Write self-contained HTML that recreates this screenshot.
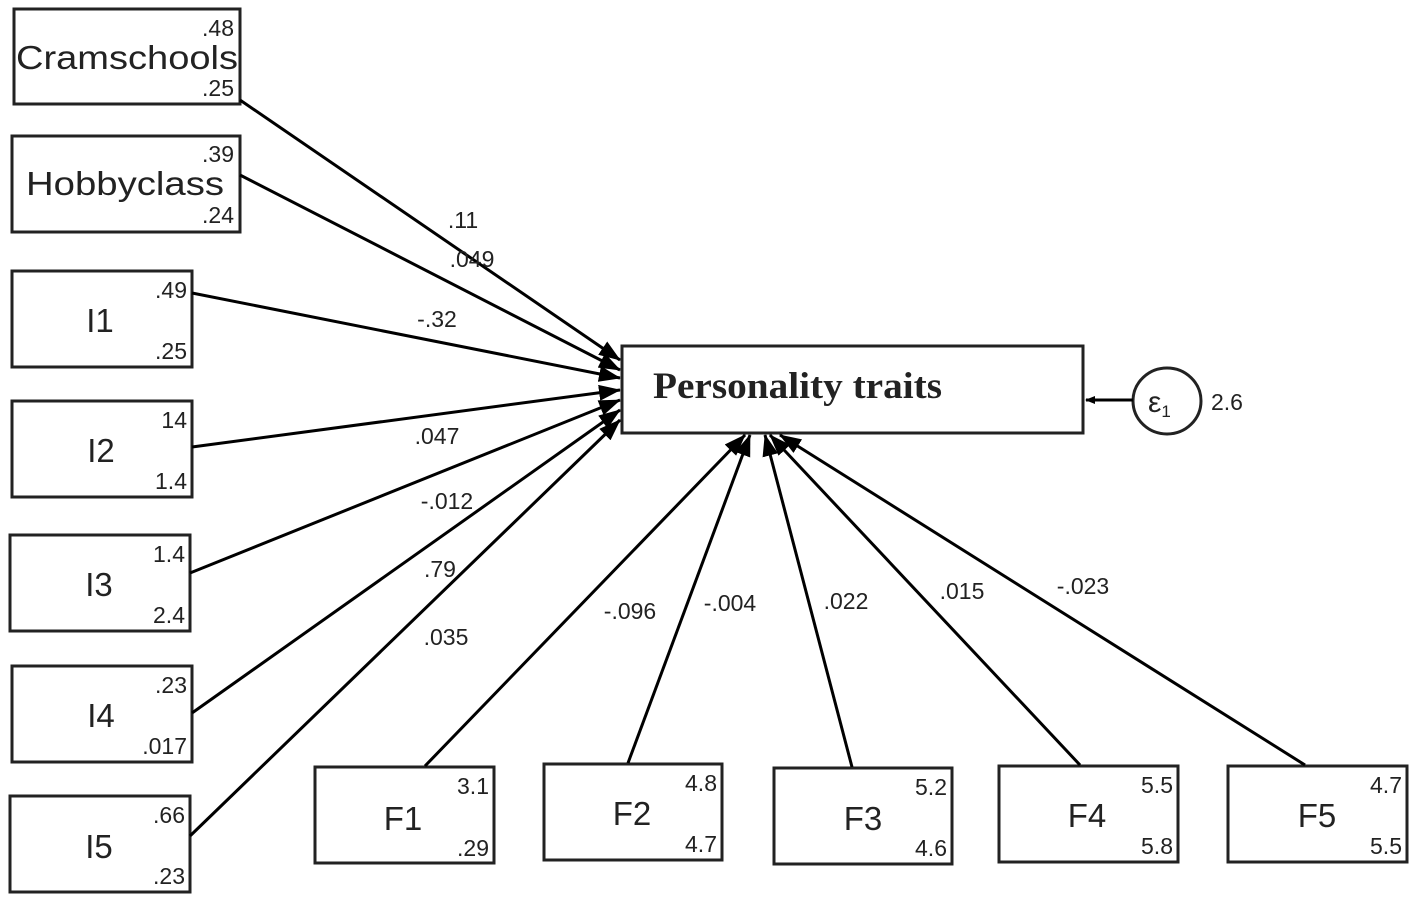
<!DOCTYPE html>
<html><head><meta charset="utf-8"><style>
html,body{margin:0;padding:0;background:#fff;}
svg{display:block;}
text{font-family:"Liberation Sans",sans-serif;fill:#222;}
.s{font-size:23px;}
.b{font-size:33px;}
</style></head><body>
<svg width="1417" height="902" viewBox="0 0 1417 902" xmlns="http://www.w3.org/2000/svg">
<defs><marker id="a" markerWidth="10" markerHeight="8" refX="9" refY="4" orient="auto" markerUnits="userSpaceOnUse" viewBox="0 0 10 8"><path d="M0,0 L10,4 L0,8 z" fill="#000"/></marker>
<marker id="A" markerWidth="22" markerHeight="16" refX="21" refY="8" orient="auto" markerUnits="userSpaceOnUse" viewBox="0 0 22 16"><path d="M0,0 L22,8 L0,16 z" fill="#000"/></marker></defs>
<g fill="#fff" stroke="#222" stroke-width="3">
<rect x="14" y="9" width="226" height="95"/>
<rect x="12" y="136" width="228" height="96"/>
<rect x="12" y="271" width="180" height="96"/>
<rect x="12" y="401" width="180" height="96"/>
<rect x="10" y="535" width="180" height="96"/>
<rect x="12" y="666" width="180" height="96"/>
<rect x="10" y="796" width="180" height="96"/>
<rect x="315" y="767" width="179" height="96"/>
<rect x="544" y="764" width="178" height="96"/>
<rect x="774" y="768" width="178" height="96"/>
<rect x="999" y="766" width="179" height="96"/>
<rect x="1228" y="766" width="179" height="96"/>
<rect x="622" y="346" width="461" height="87"/>
<ellipse cx="1167" cy="401" rx="34" ry="33"/>
</g>
<g stroke="#000" stroke-width="3" marker-end="url(#A)">
<line x1="240" y1="100" x2="620" y2="360"/>
<line x1="240" y1="175" x2="620" y2="370"/>
<line x1="192" y1="293" x2="620" y2="378"/>
<line x1="192" y1="447" x2="620" y2="390"/>
<line x1="190" y1="573" x2="620" y2="400"/>
<line x1="192" y1="713" x2="620" y2="410"/>
<line x1="190" y1="836" x2="620" y2="420"/>
<line x1="425" y1="766" x2="745" y2="435"/>
<line x1="628" y1="763" x2="750" y2="435"/>
<line x1="852" y1="767" x2="765" y2="435"/>
<line x1="1080" y1="765" x2="770" y2="435"/>
<line x1="1305" y1="765" x2="780" y2="435"/>
</g>
<line x1="1133" y1="400" x2="1086" y2="400" stroke="#000" stroke-width="3" marker-end="url(#a)"/>
<text x="16" y="69" class="b" textLength="222" lengthAdjust="spacingAndGlyphs">Cramschools</text>
<text x="26" y="195" class="b" textLength="198" lengthAdjust="spacingAndGlyphs">Hobbyclass</text>
<text x="100" y="332" class="b" text-anchor="middle">I1</text>
<text x="101" y="462" class="b" text-anchor="middle">I2</text>
<text x="99" y="596" class="b" text-anchor="middle">I3</text>
<text x="101" y="727" class="b" text-anchor="middle">I4</text>
<text x="99" y="858" class="b" text-anchor="middle">I5</text>
<text x="403" y="830" class="b" text-anchor="middle">F1</text>
<text x="632" y="825" class="b" text-anchor="middle">F2</text>
<text x="863" y="830" class="b" text-anchor="middle">F3</text>
<text x="1087" y="827" class="b" text-anchor="middle">F4</text>
<text x="1317" y="827" class="b" text-anchor="middle">F5</text>
<text x="653" y="398" style="font-family:'Liberation Serif',serif;font-size:37px;font-weight:bold" textLength="289" lengthAdjust="spacingAndGlyphs">Personality traits</text>
<text x="1148" y="412" style="font-size:30px">ε<tspan font-size="17" dy="5">1</tspan></text>
<text x="1211" y="410" class="s">2.6</text>
<g class="s" text-anchor="end">
<text x="234" y="36">.48</text><text x="234" y="96">.25</text>
<text x="234" y="162">.39</text><text x="234" y="223">.24</text>
<text x="187" y="298">.49</text><text x="187" y="359">.25</text>
<text x="187" y="428">14</text><text x="187" y="489">1.4</text>
<text x="185" y="562">1.4</text><text x="185" y="623">2.4</text>
<text x="187" y="693">.23</text><text x="187" y="754">.017</text>
<text x="185" y="823">.66</text><text x="185" y="884">.23</text>
<text x="489" y="794">3.1</text><text x="489" y="856">.29</text>
<text x="717" y="791">4.8</text><text x="717" y="852">4.7</text>
<text x="947" y="795">5.2</text><text x="947" y="856">4.6</text>
<text x="1173" y="793">5.5</text><text x="1173" y="854">5.8</text>
<text x="1402" y="793">4.7</text><text x="1402" y="854">5.5</text>
</g>
<g class="s" text-anchor="middle">
<text x="463" y="228">.11</text>
<text x="472" y="267">.049</text>
<text x="437" y="327">-.32</text>
<text x="437" y="444">.047</text>
<text x="447" y="509">-.012</text>
<text x="440" y="577">.79</text>
<text x="446" y="645">.035</text>
<text x="630" y="619">-.096</text>
<text x="730" y="611">-.004</text>
<text x="846" y="609">.022</text>
<text x="962" y="599">.015</text>
<text x="1083" y="594">-.023</text>
</g>
</svg>
</body></html>
